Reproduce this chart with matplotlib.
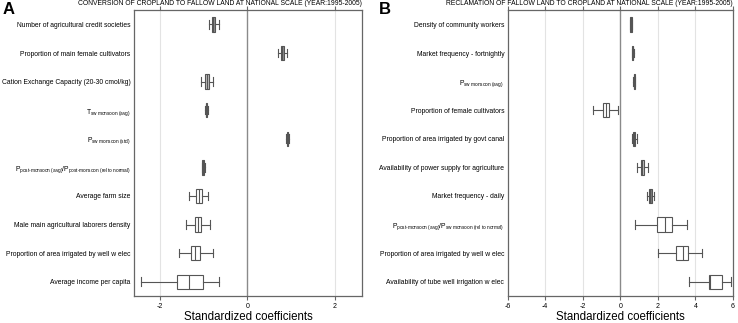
import numpy as np
import matplotlib
matplotlib.use("Agg")
import matplotlib.pyplot as plt

plt.rcParams["font.family"] = ["Liberation Sans", "DejaVu Sans"]
plt.rcParams["mathtext.fontset"] = "custom"
plt.rcParams["mathtext.rm"] = "Liberation Sans"
plt.rcParams["mathtext.it"] = "Liberation Sans"

# パネルA: 耕作地 → 休閑地
labels_a = [
    "Number of agricultural credit societies",
    "Proportion of main female cultivators",
    "Cation Exchange Capacity (20-30 cmol/kg)",
    r"T$_{\mathrm{sw\ monsoon\ (avg)}}$",
    r"P$_{\mathrm{sw\ monsoon\ (std)}}$",
    r"P$_{\mathrm{post\text{-}monsoon\ (avg)}}$/P$_{\mathrm{post\text{-}monsoon\ (rel\ to\ normal)}}$",
    "Average farm size",
    "Male main agricultural laborers density",
    "Proportion of area irrigated by well w elec",
    "Average income per capita",
]
whislo_a = [-0.88, 0.71, -1.06, -0.97, 0.89, -1.04, -1.34, -1.40, -1.57, -2.44]
q1_a = [-0.82, 0.76, -0.97, -0.96, 0.90, -1.03, -1.17, -1.21, -1.30, -1.62]
med_a = [-0.78, 0.80, -0.92, -0.94, 0.92, -1.01, -1.11, -1.14, -1.20, -1.34]
q3_a = [-0.74, 0.84, -0.88, -0.92, 0.94, -0.99, -1.05, -1.07, -1.09, -1.02]
whishi_a = [-0.66, 0.91, -0.79, -0.91, 0.95, -0.98, -0.90, -0.85, -0.78, -0.64]
fill_a = ["#8c8c8c", "#8c8c8c", "#bdbdbd", "#555555", "#555555", "#555555",
          "white", "white", "white", "white"]

# パネルB: 休閑地 → 耕作地
labels_b = [
    "Density of community workers",
    "Market frequency - fortnightly",
    r"P$_{\mathrm{sw\ monsoon\ (avg)}}$",
    "Proportion of female cultivators",
    "Proportion of area irrigated by govt canal",
    "Availability of power supply for agriculture",
    "Market frequency - daily",
    r"P$_{\mathrm{post\text{-}monsoon\ (avg)}}$/P$_{\mathrm{sw\ monsoon\ (rel\ to\ normal)}}$",
    "Proportion of area irrigated by well w elec",
    "Availability of tube well irrigation w elec",
]
whislo_b = [0.52, 0.61, 0.70, -1.44, 0.60, 0.87, 1.44, 0.80, 2.00, 3.65]
q1_b = [0.54, 0.63, 0.72, -0.94, 0.66, 1.08, 1.51, 1.97, 2.96, 4.72]
med_b = [0.57, 0.66, 0.75, -0.78, 0.73, 1.17, 1.60, 2.36, 3.35, 4.78]
q3_b = [0.60, 0.69, 0.78, -0.62, 0.80, 1.26, 1.68, 2.75, 3.63, 5.44]
whishi_b = [0.62, 0.71, 0.80, -0.12, 0.90, 1.49, 1.81, 3.58, 4.36, 5.92]
fill_b = ["#555555", "#555555", "#555555", "white", "#7a7a7a", "#bdbdbd",
          "#7a7a7a", "white", "white", "white"]

xticks_a = [-2, 0, 2]
xticks_b = [-6, -4, -2, 0, 2, 4, 6]


def draw_panel(ax, labels, lo, q1, med, q3, hi, fills, xlim, xticks, title):
    n = len(labels)
    stats = []
    for i in range(n):
        stats.append({"whislo": lo[i], "q1": q1[i], "med": med[i],
                      "q3": q3[i], "whishi": hi[i], "fliers": []})
    pos = np.arange(n)
    bp = ax.bxp(stats, positions=pos, vert=False, widths=0.5,
                patch_artist=True, showfliers=False,
                boxprops=dict(edgecolor="#555555", linewidth=0.8),
                medianprops=dict(color="#555555", linewidth=0.8),
                whiskerprops=dict(color="#555555", linewidth=0.8),
                capprops=dict(color="#555555", linewidth=0.8),
                capwidths=0.3)
    for box, c in zip(bp["boxes"], fills):
        box.set_facecolor(c)

    for t in xticks:
        if t == 0:
            ax.axvline(t, color="#8a8a8a", lw=1.0, zorder=0)
        elif xlim[0] < t < xlim[1]:
            ax.axvline(t, color="#e3e3e3", lw=0.8, zorder=0)

    ax.set_xlim(*xlim)
    ax.set_ylim(n - 0.5, -0.5)
    ax.set_yticks(pos)
    ax.set_yticklabels(labels, fontsize=4.9)
    ax.set_xticks(xticks)
    ax.set_xticklabels([str(t) for t in xticks], fontsize=5)
    ax.tick_params(axis="y", length=0, pad=2.5)
    ax.tick_params(axis="x", top=True, direction="out", length=3,
                   color="#666666", pad=2)
    for s in ax.spines.values():
        s.set_color("#666666")
        s.set_linewidth(0.9)
    ax.set_xlabel("Standardized coefficients", fontsize=8.3, labelpad=0.5)
    ax.set_title(title, fontsize=4.9, loc="right", pad=4)


fig = plt.figure(figsize=(7.38, 3.23), dpi=100)
ax_a = fig.add_axes([0.1816, 0.0836, 0.309, 0.885])
ax_b = fig.add_axes([0.688, 0.0836, 0.305, 0.885])

draw_panel(ax_a, labels_a, whislo_a, q1_a, med_a, q3_a, whishi_a, fill_a,
           (-2.6, 2.63), xticks_a,
           "CONVERSION OF CROPLAND TO FALLOW LAND AT NATIONAL SCALE (YEAR:1995-2005)")
draw_panel(ax_b, labels_b, whislo_b, q1_b, med_b, q3_b, whishi_b, fill_b,
           (-6, 6), xticks_b,
           "RECLAMATION OF FALLOW LAND TO CROPLAND AT NATIONAL SCALE (YEAR:1995-2005)")

fig.text(0.004, 0.995, "A", fontsize=12, fontweight="bold", va="top")
fig.text(0.513, 0.995, "B", fontsize=12, fontweight="bold", va="top")

fig.savefig("out.png", dpi=100)
